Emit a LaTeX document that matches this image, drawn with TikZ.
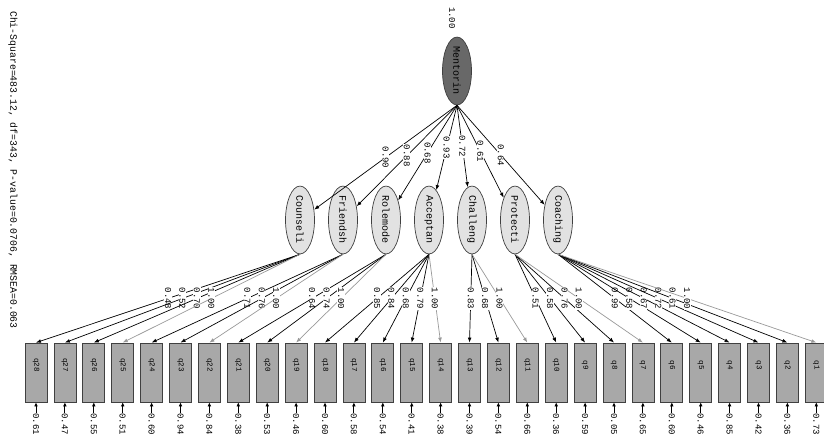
\documentclass[tikz,border=0pt]{standalone}
\usepackage{fontspec}
\setmonofont{Liberation Mono}
\usepackage{graphicx}
\usetikzlibrary{arrows.meta,shapes.geometric}
\definecolor{mfill}{HTML}{686868}
\definecolor{ffill}{HTML}{E2E2E2}
\definecolor{bfill}{HTML}{A8A8A8}
\definecolor{bdraw}{HTML}{404040}
\begin{document}
\begin{tikzpicture}[x=1pt,y=-1pt,
  latent/.style={ellipse, draw=bdraw, line width=0.7pt, minimum width=29pt, minimum height=57pt, inner sep=0pt, fill=ffill, font=\ttfamily\fontsize{10}{10}\selectfont},
  itembox/.style={rectangle, draw=bdraw, line width=0.8pt, minimum width=22pt, minimum height=59pt, inner sep=0pt, fill=bfill},
  itemlab/.style={font=\ttfamily\fontsize{7.5}{7.5}\selectfont, rotate=-90, inner sep=0pt},
  numlab/.style={font=\ttfamily\fontsize{9}{9}\selectfont, rotate=-90, inner sep=0.6pt},
  onlab/.style={numlab, fill=white},
  load/.style={draw=black, line width=0.7pt, -{Latex[length=5pt,width=3.8pt]}},
  fixedload/.style={draw=black!40, line width=0.7pt, -{Latex[length=5pt,width=3.8pt]}},
  errarrow/.style={draw=black, line width=0.9pt, -{Latex[length=4pt,width=3.8pt]}}]
\useasboundingbox (0,0) rectangle (824,441);

% fit statistics
\node[font=\ttfamily\fontsize{9.8}{9.8}\selectfont, rotate=-90, inner sep=0pt] (fit) at (13,170) {Chi-Square=483.12, df=343, P-value=0.0706, RMSEA=0.063};

% second-order factor
\node[latent, fill=mfill, minimum width=29pt, minimum height=58pt] (M) at (457,71) {\rotatebox{-90}{Mentorin}};
\node[numlab] (Mvar) at (452,18) {1.00};

% first-order factors
\foreach \j/\cx/\name in {1/300/Counseli, 2/343/Friendsh, 3/386/Rolemode, 4/429/Acceptan, 5/472/Challeng, 6/515/Protecti, 7/558/Coaching}{
  \node[latent] (F\j) at (\cx,220) {\rotatebox{-90}{\name}};
}

% second-order loadings
\foreach \j/\l in {1/0.90, 2/0.88, 3/0.68, 4/0.93, 5/0.72, 6/0.61, 7/0.64}{
  \draw[load] (M.south) -- (F\j) node[onlab, pos=0.5] (ML\j) {\l};
}

% observed items
\foreach \i/\q/\e in {1/28/0.61, 2/27/0.47, 3/26/0.55, 4/25/0.51, 5/24/0.60, 6/23/0.94, 7/22/0.84, 8/21/0.38, 9/20/0.53, 10/19/0.46, 11/18/0.60, 12/17/0.58, 13/16/0.54, 14/15/0.41, 15/14/0.38, 16/13/0.39, 17/12/0.54, 18/11/0.66, 19/10/0.36, 20/9/0.59, 21/8/0.05, 22/7/0.65, 23/6/0.60, 24/5/0.46, 25/4/0.85, 26/3/0.42, 27/2/0.36, 28/1/0.73}{
  \pgfmathsetmacro{\bx}{36+(\i-1)*28.9}
  \node[itembox] (q\i) at (\bx,372.5) {};
  \node[itemlab] (ql\i) at (\bx,365) {q\q};
  \coordinate (t\i) at (\bx,413);
  \draw[errarrow] (t\i) -- (q\i.south);
  \node[numlab, anchor=west, inner sep=0pt] (ev\i) at (t\i) {\e};
}

% first-order loadings
\foreach \i/\f/\l in {1/1/0.48, 2/1/0.52, 3/1/0.70, 5/2/0.71, 6/2/0.76, 8/3/0.64, 9/3/0.74, 11/4/0.85, 12/4/0.84, 13/4/0.68, 14/4/0.79, 16/5/0.83, 17/5/0.68, 19/6/0.51, 20/6/0.58, 21/6/0.76, 23/7/0.99, 24/7/0.58, 25/7/0.67, 26/7/0.72, 27/7/0.61}{
  \draw[load] (F\f.south) -- (q\i.north) node[onlab, pos=0.5] (L\i) {\l};
}
\foreach \i/\f in {4/1, 7/2, 10/3, 15/4, 18/5, 22/6, 28/7}{
  \draw[fixedload] (F\f.south) -- (q\i.north) node[onlab, pos=0.5] (L\i) {1.00};
}
\end{tikzpicture}
\end{document}
